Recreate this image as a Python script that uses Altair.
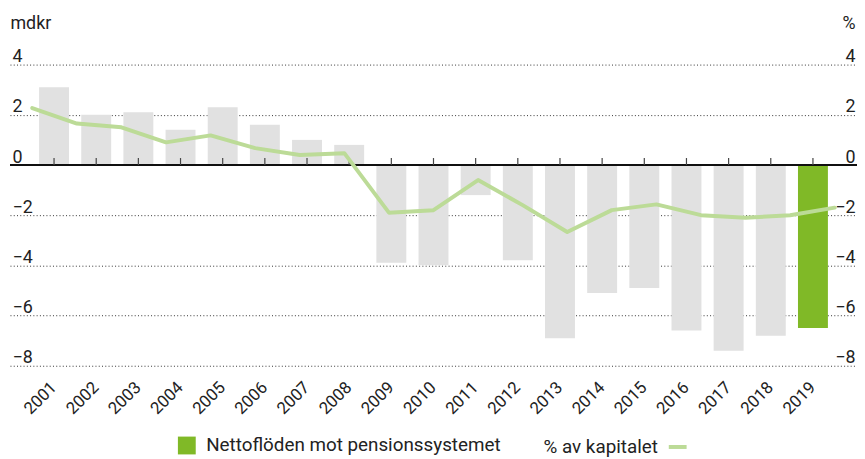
import altair as alt
import pandas as pd

years = [str(y) for y in range(2001, 2020)]
netto = [3.1, 2.0, 2.1, 1.4, 2.3, 1.6, 1.0, 0.8, -3.9, -4.0, -1.2, -3.8, -6.9, -5.1, -4.9, -6.6, -7.4, -6.8, -6.5]
pct = [2.27, 1.65, 1.5, 0.9, 1.18, 0.67, 0.4, 0.47, -1.9, -1.8, -0.6, -1.6, -2.67, -1.8, -1.57, -2.0, -2.1, -2.0, -1.7]
y_ticks = [-8, -6, -4, -2, 0, 2, 4]

BAR_LABEL = "Nettoflöden mot pensionssystemet"
LINE_LABEL = "% av kapitalet"
GREEN = "#80b927"
GREY = "#e1e1e1"
LIGHT = "#bcdb97"
FONT = "Roboto"

df = pd.DataFrame({
    "year": years,
    "netto": netto,
    "pct": pct,
    "kat": [BAR_LABEL if y == "2019" else "övrigt" for y in years],
    "serie": [LINE_LABEL] * len(years),
})

band = alt.Scale(paddingInner=0.29, paddingOuter=0.69)
yscale = alt.Scale(domain=[-8, 4], nice=False, zero=False)

base = alt.Chart(df)

bars = base.mark_bar().encode(
    x=alt.X("year:N", scale=band, sort=None, title=None,
            axis=alt.Axis(labelAngle=-45, labelAlign="right", labelBaseline="middle",
                          labelPadding=19, domain=False, ticks=False, grid=False,
                          labelFontSize=17, labelFont=FONT, labelColor="#222")),
    y=alt.Y("netto:Q", scale=yscale, title="mdkr",
            axis=alt.Axis(values=y_ticks, orient="left", domain=False, ticks=False,
                          grid=True, gridDash=[1, 2.3], gridColor="#333", gridWidth=1,
                          labelAlign="left", labelBaseline="alphabetic", labelPadding=-2,
                          labelOffset=-3, labelFontSize=18, labelFont=FONT, labelColor="#222",
                          titleAngle=0, titleAlign="left", titleBaseline="alphabetic",
                          titleX=0, titleY=-36, titleFont=FONT, titleFontSize=18,
                          titleFontWeight="normal", titleColor="#222")),
    color=alt.Color("kat:N",
                    scale=alt.Scale(domain=[BAR_LABEL, "övrigt"], range=[GREEN, GREY]),
                    legend=alt.Legend(values=[BAR_LABEL], title=None, orient="none",
                                      legendX=169, legendY=375, symbolType="square",
                                      symbolSize=324, symbolStrokeWidth=0, labelOffset=10,
                                      labelFontSize=19, labelFont=FONT, labelColor="#222",
                                      labelLimit=0, padding=0)),
)

zero = base.mark_rule(color="#111", strokeWidth=1.5).encode(
    y=alt.YDatum(0)
)

ticks = base.mark_rule(color="#444", strokeWidth=1.2, y2Offset=-7).encode(
    x=alt.X("year:N", scale=band, sort=None),
    y=alt.YDatum(0),
    y2=alt.Y2Datum(0),
)

left = alt.layer(bars, zero, ticks)

line = base.mark_line(strokeWidth=4, strokeCap="round", strokeJoin="round").encode(
    x=alt.X("year:N", scale=alt.Scale(type="point", padding=0.5), sort=None, axis=None),
    y=alt.Y("pct:Q", scale=yscale, title="%",
            axis=alt.Axis(values=y_ticks, orient="right", domain=False, ticks=False, grid=False,
                          labelAlign="right", labelBaseline="alphabetic", labelPadding=-2,
                          labelOffset=-3, labelFontSize=18, labelFont=FONT, labelColor="#222",
                          titleAngle=0, titleAlign="right", titleBaseline="alphabetic",
                          titleX=-2, titleY=-36, titleFont=FONT, titleFontSize=18,
                          titleFontWeight="normal", titleColor="#222")),
    stroke=alt.Stroke("serie:N", scale=alt.Scale(domain=[LINE_LABEL], range=[LIGHT]),
                      legend=alt.Legend(title=None, orient="none", legendX=663, legendY=375,
                                        symbolType="stroke", symbolSize=324,
                                        symbolStrokeWidth=4, labelAlign="right",
                                        labelOffset={"expr": "-31"}, labelFontSize=19,
                                        labelFont=FONT, labelColor="#222", labelLimit=0,
                                        padding=0)),
)

chart = alt.layer(left, line).resolve_scale(
    x="independent", y="independent", color="independent", stroke="independent"
).properties(
    width=855, height=304,
    autosize=alt.AutoSizeParams(type="none"),
    padding={"left": 2, "top": 55, "right": 0, "bottom": 92},
).configure_view(stroke=None)

chart.save("out.html", embed_options={"renderer": "svg", "actions": False})
